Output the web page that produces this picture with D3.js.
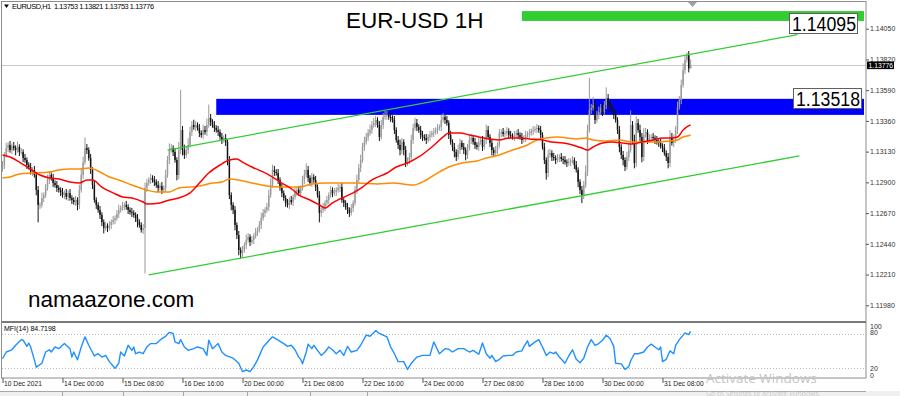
<!DOCTYPE html>
<html>
<head>
<meta charset="utf-8">
<script src="https://cdn.jsdelivr.net/npm/d3@7"></script>
<style>
  body { margin: 0; background: #fff; }
  svg { display: block; font-family: "Liberation Sans", Arial, sans-serif; }
</style>
</head>
<body>
<div id="chart"></div>
<script>
// EURUSD H1 closes, one per bar (open = previous close)
const firstOpen = 1.13000;
const closes = [
  1.13030,1.13105,1.13157,1.13180,1.13142,1.13172,1.13157,1.13142,1.13165,1.13127,1.13127,1.13082,1.13067,1.13030,1.13015,1.12978,
  1.12993,1.12955,1.12843,1.12731,1.12731,1.12783,1.12805,1.12858,1.12918,1.12955,1.12933,1.12895,1.12880,1.12858,1.12843,1.12828,
  1.12805,1.12820,1.12791,1.12820,1.12783,1.12768,1.12753,1.12768,1.12731,1.12843,1.12955,1.13052,1.13157,1.13142,1.13082,1.12993,
  1.12880,1.12768,1.12731,1.12693,1.12656,1.12603,1.12558,1.12573,1.12558,1.12581,1.12603,1.12618,1.12633,1.12663,1.12693,1.12708,
  1.12723,1.12731,1.12716,1.12693,1.12678,1.12671,1.12656,1.12633,1.12603,1.12581,1.12544,1.12558,1.12858,1.12895,1.12918,1.12933,
  1.12918,1.12903,1.12880,1.12858,1.12873,1.12843,1.12858,1.12955,1.13067,1.13142,1.13157,1.13127,1.13067,1.12955,1.13142,1.13292,
  1.13142,1.13105,1.13142,1.13180,1.13277,1.13329,1.13314,1.13329,1.13307,1.13269,1.13255,1.13292,1.13277,1.13329,1.13382,1.13352,
  1.13329,1.13307,1.13292,1.13277,1.13240,1.13217,1.13232,1.13202,1.13067,1.12805,1.12731,1.12693,1.12581,1.12506,1.12394,1.12371,
  1.12394,1.12431,1.12469,1.12491,1.12454,1.12469,1.12499,1.12529,1.12544,1.12581,1.12633,1.12671,1.12693,1.12716,1.12805,1.12880,
  1.12993,1.12978,1.12970,1.12918,1.12858,1.12820,1.12783,1.12746,1.12731,1.12768,1.12753,1.12791,1.12828,1.12843,1.12820,1.12858,
  1.12918,1.12955,1.12993,1.12933,1.12895,1.12940,1.12918,1.12865,1.12805,1.12671,1.12693,1.12716,1.12746,1.12768,1.12805,1.12843,
  1.12820,1.12828,1.12843,1.12858,1.12865,1.12768,1.12746,1.12716,1.12693,1.12671,1.12708,1.12746,1.12843,1.12918,1.13007,1.13067,
  1.13165,1.13202,1.13240,1.13269,1.13292,1.13329,1.13344,1.13367,1.13329,1.13240,1.13329,1.13389,1.13397,1.13404,1.13389,1.13382,
  1.13367,1.13292,1.13217,1.13180,1.13142,1.13202,1.13142,1.13045,1.13067,1.13090,1.13217,1.13307,1.13344,1.13314,1.13292,1.13255,
  1.13240,1.13232,1.13217,1.13240,1.13255,1.13269,1.13277,1.13292,1.13307,1.13314,1.13367,1.13389,1.13367,1.13344,1.13255,1.13202,
  1.13165,1.13127,1.13090,1.13142,1.13195,1.13165,1.13142,1.13105,1.13157,1.13217,1.13232,1.13202,1.13180,1.13165,1.13202,1.13217,
  1.13165,1.13217,1.13292,1.13240,1.13195,1.13142,1.13120,1.13142,1.13180,1.13269,1.13277,1.13262,1.13269,1.13284,1.13255,1.13247,
  1.13240,1.13255,1.13269,1.13255,1.13240,1.13217,1.13232,1.13255,1.13262,1.13269,1.13284,1.13292,1.13299,1.13307,1.13292,1.13255,
  1.13165,1.13067,1.12970,1.13105,1.13120,1.13090,1.13082,1.13067,1.13082,1.13090,1.13075,1.13067,1.13052,1.13045,1.13052,1.13060,
  1.13067,1.13030,1.12993,1.12903,1.12843,1.12805,1.12880,1.12978,1.13292,1.13442,1.13457,1.13479,1.13367,1.13404,1.13427,1.13457,
  1.13427,1.13479,1.13531,1.13494,1.13457,1.13442,1.13404,1.13367,1.13292,1.13165,1.13105,1.13067,1.13015,1.13090,1.13142,1.13329,
  1.13217,1.13045,1.13344,1.13292,1.13240,1.13090,1.13255,1.13277,1.13217,1.13232,1.13240,1.13232,1.13217,1.13202,1.13195,1.13172,
  1.13157,1.13120,1.13090,1.13045,1.13240,1.13195,1.13217,1.13292,1.13464,1.13516,1.13629,1.13741,1.13816,1.13853,1.13753,1.13776
];
// wick lengths in pips above / below the candle body
const wickUp = [
  3,2,4,2,3,2,3,2,4,2,3,2,3,2,2,3,
  2,3,2,3,2,4,2,3,4,3,2,3,2,3,2,2,
  3,2,3,2,3,2,2,3,2,4,5,4,8,3,2,3,
  2,3,2,2,3,2,2,3,2,3,2,3,2,3,4,2,
  3,2,3,2,2,3,2,2,3,2,2,3,4,3,2,3,
  2,3,2,3,2,3,2,4,3,5,3,2,3,2,6,30,
  3,4,3,5,4,3,4,3,2,3,2,4,3,5,10,3,
  2,3,2,3,2,3,2,3,2,3,2,2,3,2,3,2,
  3,2,4,3,2,3,2,3,2,3,4,3,2,3,4,5,
  4,3,2,3,2,3,2,2,3,2,3,2,3,2,3,2,
  3,4,5,3,2,3,2,3,2,3,2,3,2,3,2,3,
  2,3,2,3,2,3,2,2,3,2,3,2,3,4,3,4,
  3,4,3,3,4,3,4,3,2,3,4,3,4,3,2,3,
  2,3,2,3,4,3,2,3,2,3,4,3,4,3,2,3,
  3,2,3,2,3,2,3,2,3,2,4,3,2,3,2,3,
  2,3,2,4,3,2,3,2,3,4,3,2,3,2,3,2,
  3,2,4,3,2,3,2,3,2,3,2,3,2,3,2,3,
  2,3,2,3,2,3,2,3,2,3,2,3,2,3,2,3,
  2,3,2,4,3,2,3,2,3,2,3,2,3,2,3,2,
  3,2,3,2,2,3,3,5,4,24,3,6,4,3,4,3,
  4,3,8,3,2,3,2,3,2,3,2,3,2,4,5,11,
  3,4,5,3,4,3,5,3,2,3,2,3,2,3,2,3,
  2,3,2,3,5,3,4,3,4,3,4,5,3,2,3,4.5
];
const wickDown = [
  2,3,2,3,2,3,2,4,2,3,2,3,2,3,2,2,
  3,2,4,13,3,2,3,2,2,3,2,3,2,3,2,3,
  2,3,2,3,2,3,2,3,4,3,2,3,2,3,2,3,
  3,2,3,2,3,3,4,2,3,2,3,2,3,2,3,2,
  2,3,2,3,2,3,2,3,4,2,2,3,34,3,2,3,
  2,3,2,3,2,3,2,3,2,3,2,3,2,4,3,3,
  4,3,2,3,2,3,2,3,2,3,2,3,2,3,2,3,
  2,3,2,3,2,3,2,3,4,3,4,3,4,3,4,4,
  3,2,3,2,3,2,3,2,3,2,3,2,3,2,3,2,
  2,3,2,3,2,3,2,3,2,3,2,3,2,3,2,3,
  2,3,2,3,2,3,2,3,2,7,3,2,3,2,3,2,
  3,2,3,2,3,2,3,2,3,3,2,3,2,3,2,3,
  2,3,2,3,2,3,2,3,2,3,2,3,2,3,2,3,
  2,3,2,3,4,3,4,3,2,3,2,3,2,3,2,3,
  3,2,3,2,3,2,3,2,3,2,3,2,3,2,3,2,
  3,4,3,2,3,2,3,4,3,2,3,2,3,2,3,2,
  3,2,3,2,3,4,3,2,3,2,3,2,3,2,3,2,
  2,3,2,3,2,3,2,3,2,3,2,3,2,3,2,3,
  2,3,5,3,2,3,2,3,2,3,2,3,2,3,2,3,
  2,3,2,4,3,6,3,2,3,2,3,2,3,2,3,2,
  3,2,3,2,3,2,3,2,3,4,3,4,3,2,3,2,
  3,4,3,2,3,4,3,2,3,2,3,2,3,2,3,2,
  3,2,3,4,3,2,3,2,3,2,3,2,3,2,3,0
];

// moving averages: [bar, price]
const maRed = [[0,1.13105],[4,1.13090],[9,1.13052],[14,1.13007],[20,1.12955],[25,1.12933],[30,1.12925],[36,1.12903],[41,1.12895],[45,1.12918],[48,1.12918],[53,1.12865],[59,1.12821],[64,1.12791],[69,1.12783],[75,1.12753],[77,1.12738],[84,1.12746],[89,1.12768],[94,1.12783],[100,1.12821],[105,1.12895],[110,1.12970],[116,1.13030],[121,1.13067],[125,1.13075],[128,1.13052],[133,1.13015],[139,1.12978],[144,1.12940],[149,1.12895],[155,1.12843],[158,1.12806],[164,1.12768],[169,1.12731],[172,1.12708],[176,1.12746],[181,1.12783],[187,1.12821],[192,1.12865],[197,1.12918],[205,1.12970],[210,1.13015],[216,1.13045],[222,1.13090],[229,1.13165],[235,1.13240],[238,1.13270],[244,1.13270],[249,1.13255],[254,1.13240],[260,1.13225],[265,1.13217],[270,1.13232],[276,1.13232],[281,1.13225],[288,1.13217],[293,1.13202],[299,1.13195],[304,1.13180],[309,1.13157],[312,1.13142],[315,1.13165],[320,1.13195],[325,1.13202],[331,1.13195],[336,1.13187],[341,1.13202],[347,1.13217],[352,1.13232],[356,1.13232],[360,1.13240],[363,1.13292],[365,1.13315],[367,1.13330]];
const maOrange = [[0,1.12933],[4,1.12940],[9,1.12963],[16,1.12970],[25,1.12978],[30,1.12993],[36,1.13000],[41,1.13000],[46,1.13007],[52,1.12978],[57,1.12940],[62,1.12918],[69,1.12880],[77,1.12843],[82,1.12828],[89,1.12828],[94,1.12858],[100,1.12865],[105,1.12873],[112,1.12895],[117,1.12903],[121,1.12925],[126,1.12918],[133,1.12895],[141,1.12873],[148,1.12865],[158,1.12865],[165,1.12888],[173,1.12895],[180,1.12895],[189,1.12895],[200,1.12888],[208,1.12895],[219,1.12880],[226,1.12918],[233,1.12978],[238,1.13015],[245,1.13045],[253,1.13060],[258,1.13082],[265,1.13105],[272,1.13142],[280,1.13180],[285,1.13217],[290,1.13232],[296,1.13240],[301,1.13232],[306,1.13225],[311,1.13232],[315,1.13217],[322,1.13210],[329,1.13217],[336,1.13202],[344,1.13202],[350,1.13202],[356,1.13210],[360,1.13217],[363,1.13240],[365,1.13247],[367,1.13255]];

// MFI(14): [bar, value]
const mfi = [[0,36],[2,48],[5,52],[7,60],[10,70],[11,69],[13,58],[14,64],[15,57],[17,34],[18,21],[21,28],[23,48],[25,52],[26,48],[28,57],[30,54],[31,57],[33,63],[36,54],[37,39],[38,48],[40,34],[42,57],[44,75],[46,60],[49,41],[51,45],[53,39],[55,42],[57,31],[60,19],[62,28],[63,48],[65,41],[67,60],[69,51],[70,57],[71,45],[73,48],[75,45],[77,57],[79,63],[82,63],[85,72],[87,76],[89,83],[91,81],[92,66],[94,63],[95,70],[97,57],[99,51],[102,54],[104,57],[107,54],[109,42],[110,69],[112,54],[115,63],[117,48],[119,42],[123,37],[126,28],[128,13],[130,16],[132,13],[134,22],[136,34],[139,57],[142,68],[144,75],[147,69],[150,63],[152,58],[154,60],[156,52],[158,39],[159,35],[160,27],[162,48],[163,62],[165,54],[166,60],[168,51],[170,42],[172,48],[174,57],[176,52],[178,45],[180,51],[182,42],[184,58],[186,48],[189,51],[191,60],[194,78],[196,76],[199,86],[201,81],[205,75],[207,57],[209,45],[211,31],[214,31],[216,17],[218,28],[221,39],[224,42],[228,42],[230,66],[233,45],[236,54],[238,53],[240,48],[243,54],[246,54],[249,48],[251,51],[254,44],[256,64],[258,45],[260,37],[261,42],[263,31],[265,35],[267,41],[270,42],[272,42],[274,48],[277,50],[278,57],[280,68],[281,58],[284,66],[286,70],[288,57],[290,42],[292,48],[294,45],[295,48],[297,39],[300,28],[302,41],[304,52],[306,35],[308,29],[310,37],[312,57],[314,70],[316,60],[318,63],[320,69],[322,78],[324,72],[326,58],[327,28],[330,27],[332,17],[334,22],[335,32],[337,45],[339,45],[342,48],[344,57],[346,62],[348,57],[350,52],[351,57],[352,31],[354,35],[356,50],[358,45],[359,60],[361,70],[364,82],[366,79],[367,84.72]];

// drawn objects
const channelUpper = [[88, 1.13142], [424, 1.14005]];
const channelLower = [[78, 1.12207], [425, 1.13098]];
const blueZone = [114, 1.13525, 1.13405];   // from bar, top, bottom
const greenZone = [277, 1.14182, 1.14108];
const levelLabels = ["1.14095", "1.13518"];

const priceTicks = [1.14050, 1.13820, 1.13590, 1.13360, 1.13130, 1.12900, 1.12670, 1.12440, 1.12210, 1.11980];
const timeTicks = [0, 32, 64, 96, 128, 160, 192, 224, 256, 288, 320, 352];
const timeLabels = ["10 Dec 2021", "14 Dec 00:00", "15 Dec 08:00", "16 Dec 16:00", "20 Dec 00:00", "21 Dec 08:00",
  "22 Dec 16:00", "24 Dec 00:00", "27 Dec 08:00", "28 Dec 16:00", "30 Dec 00:00", "31 Dec 08:00"];
const mfiLevels = [80, 20];
const lastPrice = 1.13776;
const headerText = "EURUSD,H1  1.13753 1.13821 1.13753 1.13776";
const mfiText = "MFI(14) 84.7198";

const W = 900, H = 396;
const left = 2, right = 866, mainTop = 2, mainBottom = 321, mfiTop = 323, mfiBottom = 378;

const svg = d3.select("#chart").append("svg").attr("width", W).attr("height", H);
svg.append("rect").attr("width", W).attr("height", H).attr("fill", "#fff");

const x = d3.scaleLinear().domain([0, 460]).range([2.5, 2.5 + 460 * 1.875]);
const y = d3.scaleLinear().domain([1.11980, 1.14050]).range([305.3, 28.7]);
const yM = d3.scaleLinear().domain([0, 100]).range([379, 322.8]);

const defs = svg.append("defs");
defs.append("clipPath").attr("id", "clipMain").append("rect")
  .attr("x", left).attr("y", mainTop).attr("width", right - left).attr("height", mainBottom - mainTop);

const main = svg.append("g").attr("clip-path", "url(#clipMain)");

// current price line
main.append("line").attr("x1", left).attr("x2", right)
  .attr("y1", Math.round(y(lastPrice)) + 0.5).attr("y2", Math.round(y(lastPrice)) + 0.5)
  .attr("stroke", "#c8c8c8");

// zones
main.append("rect").attr("x", x(greenZone[0])).attr("width", 864 - x(greenZone[0]))
  .attr("y", y(greenZone[1])).attr("height", y(greenZone[2]) - y(greenZone[1])).attr("fill", "#32cd32");
main.append("rect").attr("x", x(blueZone[0])).attr("width", 864 - x(blueZone[0]))
  .attr("y", y(blueZone[1])).attr("height", y(blueZone[2]) - y(blueZone[1])).attr("fill", "#0000ff");

// candles
const candles = closes.map((c, i) => {
  const o = i === 0 ? firstOpen : closes[i - 1];
  return {
    i, open: o, close: c, up: c >= o,
    high: Math.max(o, c) + wickUp[i] / 10000,
    low: Math.min(o, c) - wickDown[i] / 10000
  };
});
const bullCol = "#9a9a9a", bearCol = "#141414";
main.append("g").selectAll("line").data(candles).join("line")
  .attr("x1", d => x(d.i)).attr("x2", d => x(d.i))
  .attr("y1", d => y(d.high)).attr("y2", d => y(d.low))
  .attr("stroke", d => d.up ? bullCol : bearCol).attr("stroke-width", 1);
main.append("g").selectAll("rect").data(candles).join("rect")
  .attr("x", d => x(d.i) - 0.75).attr("width", 1.5)
  .attr("y", d => y(Math.max(d.open, d.close)))
  .attr("height", d => Math.max(0.8, y(Math.min(d.open, d.close)) - y(Math.max(d.open, d.close))))
  .attr("fill", d => d.up ? bullCol : bearCol);

// moving averages
const maLine = d3.line().x(d => x(d[0])).y(d => y(d[1])).curve(d3.curveMonotoneX);
main.append("path").attr("d", maLine(maOrange)).attr("fill", "none").attr("stroke", "#ff8c00").attr("stroke-width", 1.5);
main.append("path").attr("d", maLine(maRed)).attr("fill", "none").attr("stroke", "#ff0000").attr("stroke-width", 1.5);

// channel
[channelUpper, channelLower].forEach(c => {
  main.append("line").attr("x1", x(c[0][0])).attr("y1", y(c[0][1]))
    .attr("x2", x(c[1][0])).attr("y2", y(c[1][1]))
    .attr("stroke", "#32cd32").attr("stroke-width", 1.3);
});

// level label boxes
const boxes = [
  { text: levelLabels[0], x0: 789, cy: y(+levelLabels[0]) },
  { text: levelLabels[1], x0: 793, cy: y(+levelLabels[1]) - 1.5 }
];
boxes.forEach(b => {
  svg.append("rect").attr("x", b.x0 + 0.5).attr("y", Math.round(b.cy - 10) + 0.5)
    .attr("width", 68).attr("height", 20).attr("fill", "#fff").attr("stroke", "#606060");
  svg.append("text").attr("x", b.x0 + 3).attr("y", Math.round(b.cy - 10) + 17.5)
    .attr("font-size", 20).attr("textLength", 64).attr("lengthAdjust", "spacingAndGlyphs")
    .attr("fill", "#000").text(b.text);
});

// title and site name
svg.append("text").attr("x", 346).attr("y", 28).attr("font-size", 22.5).attr("fill", "#000").text("EUR-USD 1H");
svg.append("text").attr("x", 28).attr("y", 307).attr("font-size", 22.5).attr("fill", "#000").text("namaazone.com");

// header
svg.append("path").attr("d", "M4,4.5 L9,4.5 L6.5,8 Z").attr("fill", "#000");
svg.append("text").attr("x", 12).attr("y", 8.8).attr("font-size", 7.4).attr("fill", "#000")
  .attr("textLength", 142).attr("lengthAdjust", "spacing")
  .attr("xml:space", "preserve").style("white-space", "pre").text(headerText);

// shift marker
svg.append("path").attr("d", "M688,2 L697,2 L692.5,7 Z").attr("fill", "#a0a0a0");

// MFI panel
const mfiG = svg.append("g");
mfiLevels.forEach(v => {
  mfiG.append("line").attr("x1", left).attr("x2", right)
    .attr("y1", Math.round(yM(v)) + 0.5).attr("y2", Math.round(yM(v)) + 0.5)
    .attr("stroke", "#b8b8b8").attr("stroke-dasharray", "1,2");
});
mfiG.append("path").attr("d", d3.line().x(d => x(d[0])).y(d => yM(d[1]))(mfi))
  .attr("fill", "none").attr("stroke", "#1e90ff").attr("stroke-width", 1.4).attr("stroke-linejoin", "round");
svg.append("text").attr("x", 4).attr("y", 331).attr("font-size", 7).attr("fill", "#000").text(mfiText);

// frames
svg.append("rect").attr("x", 1.5).attr("y", 1.5).attr("width", right - 1.5).attr("height", mfiBottom - 1.5)
  .attr("fill", "none").attr("stroke", "#8c8c8c");
svg.append("rect").attr("x", left).attr("y", mainBottom).attr("width", right - left).attr("height", 2).attr("fill", "#7a7a7a");

// price axis
const yAxis = d3.axisRight(y).tickValues(priceTicks).tickFormat(d3.format(".5f")).tickSize(3).tickPadding(1);
const ya = svg.append("g").attr("transform", `translate(${right},0)`).call(yAxis);
ya.select(".domain").remove();
ya.selectAll("line").attr("stroke", "#555");
ya.selectAll("text").attr("font-size", 7).attr("fill", "#333").attr("font-family", "Liberation Sans, Arial, sans-serif");

// last price tag
svg.append("rect").attr("x", 867).attr("y", y(lastPrice) - 3.8).attr("width", 27).attr("height", 7.6).attr("fill", "#000");
svg.append("text").attr("x", 868.5).attr("y", y(lastPrice) + 2.4).attr("font-size", 6.8).attr("fill", "#fff").text(d3.format(".5f")(lastPrice));

// MFI axis labels
const mfiAxisLabels = [["100", 326.5], ["80", 332.5], ["20", 368.5], ["0", 375.5]];
mfiAxisLabels.forEach(l => {
  svg.append("text").attr("x", 870).attr("y", l[1] + 2.4).attr("font-size", 7).attr("fill", "#333").text(l[0]);
});

// time axis
const xAxis = d3.axisBottom(x).tickValues(timeTicks).tickFormat((d, i) => timeLabels[i]).tickSize(5).tickPadding(1);
const xa = svg.append("g").attr("transform", `translate(0,${mfiBottom})`).call(xAxis);
xa.select(".domain").remove();
xa.selectAll("line").attr("stroke", "#555");
xa.selectAll("text").attr("text-anchor", "start").attr("dx", 1).attr("y", 3.5)
  .attr("font-size", 6.7).attr("fill", "#222").attr("font-family", "Liberation Sans, Arial, sans-serif");

// bottom tab strip
svg.append("rect").attr("x", 0).attr("y", 391).attr("width", W).attr("height", 5).attr("fill", "#f0f0f0");
svg.append("line").attr("x1", 0).attr("x2", 866).attr("y1", 391.5).attr("y2", 391.5).attr("stroke", "#a8a8a8");
[62, 123, 183, 247, 310, 367].forEach(t => {
  svg.append("line").attr("x1", t + 0.5).attr("x2", t + 0.5).attr("y1", 391.5).attr("y2", 396).attr("stroke", "#a8a8a8");
});

// OS watermark
svg.append("text").attr("x", 706).attr("y", 383).attr("font-size", 13.5).attr("fill", "#c4c4c4")
  .attr("font-family", "Open Sans, sans-serif").text("Activate Windows");
svg.append("text").attr("x", 706).attr("y", 395.5).attr("font-size", 7).attr("fill", "#cccccc")
  .attr("font-family", "Open Sans, sans-serif").text("Go to Settings to activate Windows.");
</script>
</body>
</html>
